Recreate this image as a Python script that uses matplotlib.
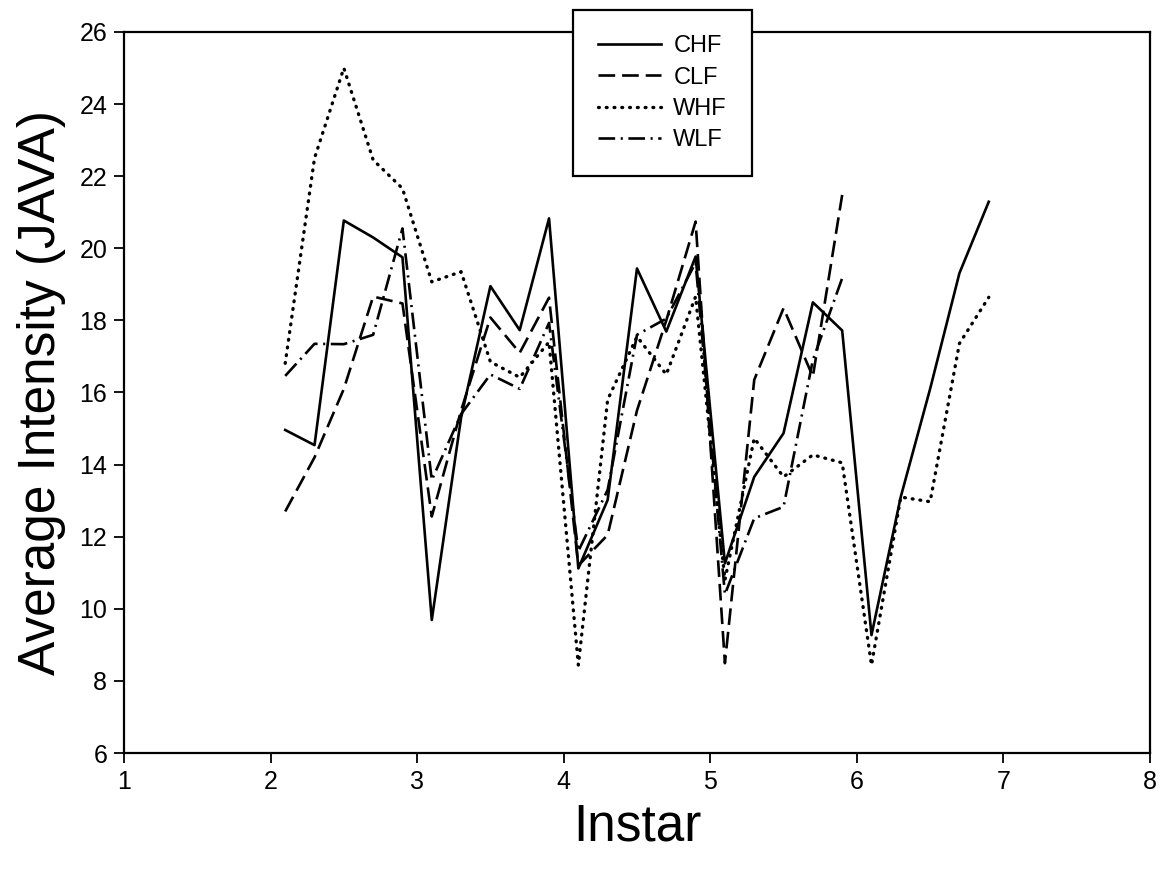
import matplotlib
matplotlib.use("Agg")
import matplotlib.pyplot as plt

plt.rcParams['font.family'] = ['Liberation Sans', 'DejaVu Sans']
plt.rcParams['lines.scale_dashes'] = False

# instar positions of the samples
instar = [2.1, 2.3, 2.5, 2.7, 2.9, 3.1, 3.3, 3.5, 3.7, 3.9,
          4.1, 4.3, 4.5, 4.7, 4.9, 5.1, 5.3, 5.5, 5.7, 5.9,
          6.1, 6.3, 6.5, 6.7, 6.9]

chf = [14.96, 14.54, 20.77, 20.3, 19.75, 9.69, 15.3, 18.95, 17.73, 20.83,
       11.12, 13.02, 19.44, 17.69, 19.77, 11.26, 13.66, 14.87, 18.5, 17.72,
       9.27, 13.11, 16.1, 19.31, 21.29]
clf = [12.7, 14.2, 16.1, 18.66, 18.47, 12.56, 15.5, 18.08, 17.1, 18.63,
       11.2, 12.05, 15.5, 18.0, 20.74, 8.49, 16.35, 18.34, 16.44, 21.48]
whf = [16.81, 22.5, 25.0, 22.45, 21.66, 19.07, 19.35, 16.85, 16.42, 17.4,
       8.44, 15.8, 17.55, 16.5, 18.66, 10.8, 14.73, 13.66, 14.27, 14.05,
       8.44, 13.1, 12.97, 17.36, 18.64]
wlf = [16.46, 17.35, 17.34, 17.6, 20.55, 13.57, 15.4, 16.5, 16.1, 17.93,
       11.6, 13.3, 17.6, 18.05, 19.6, 10.4, 12.51, 12.83, 16.9, 19.17]

series_names = ["CHF", "CLF", "WHF", "WLF"]

fig = plt.figure(figsize=(11.63, 8.76), dpi=100)
ax = fig.add_axes([0.1066, 0.1404, 0.8822, 0.8231])

lw = 1.9
ax.plot(instar, chf, color="black", lw=lw, label=series_names[0])
ax.plot(instar[:len(clf)], clf, color="black", lw=lw, dashes=(12, 5),
        label=series_names[1])
ax.plot(instar, whf, color="black", lw=lw + 0.5, dashes=(0.6, 5.0),
        dash_capstyle="round", label=series_names[2])
ax.plot(instar[:len(wlf)], wlf, color="black", lw=lw, dashes=(12, 4, 1.5, 4),
        label=series_names[3])

ax.set_xlim(1, 8)
ax.set_ylim(6, 26)
ax.set_xticks(range(1, 9))
ax.set_yticks(range(6, 27, 2))
ax.tick_params(direction="out", length=7, width=1.3, labelsize=18, pad=5)
for sp in ax.spines.values():
    sp.set_linewidth(1.6)

ax.set_xlabel("Instar", fontsize=37, labelpad=6)
ax.set_ylabel("Average Intensity (JAVA)", fontsize=37, labelpad=10)

leg = ax.legend(loc="upper left", bbox_to_anchor=(0.4376, 1.03),
                borderaxespad=0, fontsize=17, frameon=True, fancybox=False,
                handlelength=2.7, handletextpad=0.5, labelspacing=0.4,
                borderpad=1.05)
leg.get_frame().set_edgecolor("black")
leg.get_frame().set_linewidth(1.6)
leg.get_frame().set_alpha(1)
leg.set_zorder(5)

fig.savefig("out.png", dpi=100)
